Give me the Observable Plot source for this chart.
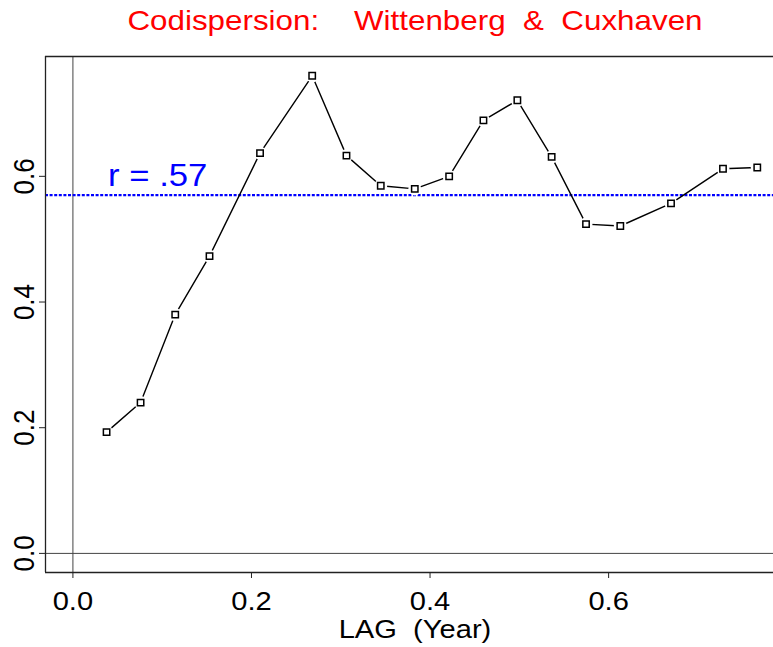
<!DOCTYPE html>
<html>
<head>
<meta charset="utf-8">
<script src="https://cdn.jsdelivr.net/npm/d3@7"></script>
<script src="https://cdn.jsdelivr.net/npm/@observablehq/plot@0.6"></script>
<style>
  html, body { margin: 0; padding: 0; background: #fff; }
  svg text { white-space: pre; }
</style>
</head>
<body>
<div id="chart"></div>
<script>
// Codispersion between the Wittenberg and Cuxhaven series by lag (years)
const lag = [0.0377, 0.0758, 0.1146, 0.1530, 0.2096, 0.2680, 0.3064, 0.3448, 0.3829,
             0.4214, 0.4598, 0.4978, 0.5362, 0.5747, 0.6131, 0.6699, 0.7281, 0.7665];
const codispersion = [0.193, 0.240, 0.380, 0.473, 0.637, 0.760, 0.633, 0.585, 0.580,
                      0.600, 0.689, 0.721, 0.631, 0.524, 0.521, 0.557, 0.612, 0.614];
const rValue = 0.57;          // overall correlation
const rLabelLag = 0.095;      // where the r label sits along the lag axis
const xTicks = [0, 0.2, 0.4, 0.6];
const yTicks = [0, 0.2, 0.4, 0.6];
const title = "Codispersion:    Wittenberg  &  Cuxhaven";
const xLabel = "LAG  (Year)";

const points = lag.map((x, i) => ({lag: x, value: codispersion[i]}));

// axis limits padded by 4% beyond the data range (including zero)
const xDomain = [-0.0307, 0.797];
const yDomain = [-0.0304, 0.7907];

const font = '"Liberation Sans", Arial, Helvetica, sans-serif';
const fmt = d3.format(".1f");
const rText = "r = " + d3.format(".2f")(rValue).replace(/^0/, "");
const frameStroke = "#222";

const plot = Plot.plot({
  width: 773,
  height: 647,
  marginLeft: 45,
  marginRight: -11,
  marginTop: 56,
  marginBottom: 75,
  style: {fontFamily: font, background: "white", color: "black", overflow: "hidden"},
  x: {domain: xDomain},
  y: {domain: yDomain},
  marks: [
    // reference lines through the origin
    Plot.ruleX([0], {stroke: "#444", strokeWidth: 1}),
    Plot.ruleY([0], {stroke: "#444", strokeWidth: 1}),
    // overall correlation level
    Plot.ruleY([rValue], {stroke: "#0000ff", strokeWidth: 2.2, strokeDasharray: "3,1.6"}),
    Plot.text([rValue], {
      x: rLabelLag, y: d => d, text: () => rText,
      dy: -9, lineAnchor: "bottom", fontSize: 31, fill: "#0000ff"
    }),
    // codispersion curve with open squares
    Plot.line(points, {x: "lag", y: "value", stroke: "black", strokeWidth: 1.4}),
    Plot.dot(points, {x: "lag", y: "value", r: 6.5, fill: "white", stroke: "none"}),
    Plot.dot(points, {x: "lag", y: "value", symbol: "square", r: 3.6,
                      fill: "white", stroke: "black", strokeWidth: 1.5}),
    // box: left, top and bottom edges
    Plot.ruleX([xDomain[0]], {stroke: frameStroke, strokeWidth: 1.3}),
    Plot.ruleY([yDomain[0]], {stroke: frameStroke, strokeWidth: 1.3}),
    Plot.ruleY([yDomain[1]], {stroke: frameStroke, strokeWidth: 1.3}),
    // axes
    Plot.axisX({ticks: xTicks, tickSize: 6, tickPadding: 13, tickFormat: fmt,
                fontSize: 26, label: null, stroke: frameStroke}),
    Plot.axisY({ticks: yTicks, tickSize: 6, fill: "none", label: null, stroke: frameStroke}),
    Plot.text(yTicks, {
      y: d => d, text: fmt, frameAnchor: "left", rotate: -90, dx: -21,
      textAnchor: "middle", lineAnchor: "middle", fontSize: 26, fill: "black"
    }),
    // title and axis label
    Plot.text([title], {frameAnchor: "top", dy: -27, lineAnchor: "bottom",
                        fontSize: 28, fill: "#ff0000"}),
    Plot.text([xLabel], {frameAnchor: "bottom", dy: 65, lineAnchor: "bottom",
                         fontSize: 26, fill: "black"})
  ]
});

// text in this figure is set slightly wide
d3.select(plot).selectAll("text").each(function () {
  const t = this.getAttribute("transform");
  if (t) this.setAttribute("transform", t.replace(/^(translate\([^)]*\))/, "$1 scale(1.12,1)"));
});

document.getElementById("chart").appendChild(plot);
</script>
</body>
</html>
